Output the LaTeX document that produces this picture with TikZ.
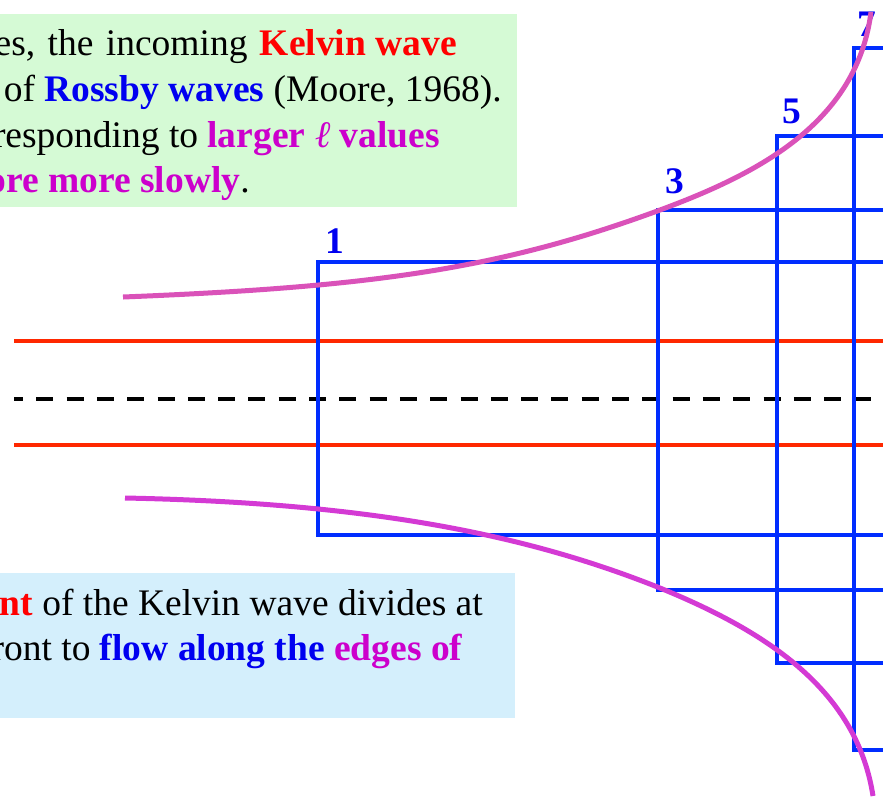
\documentclass[tikz,border=0pt]{standalone}
\usepackage{fontspec}
\setmainfont{Liberation Serif}
\usetikzlibrary{positioning}
\definecolor{kelvinred}{RGB}{255,0,0}
\definecolor{eqred}{RGB}{255,40,0}
\definecolor{rossbyblue}{RGB}{0,0,240}
\definecolor{gridblue}{RGB}{0,45,255}
\definecolor{edgemag}{RGB}{204,0,204}
\definecolor{uppink}{RGB}{218,82,185}
\definecolor{lowmag}{RGB}{212,58,212}
\definecolor{notegreen}{RGB}{213,250,213}
\definecolor{notecyan}{RGB}{212,239,252}

\begin{document}
\begin{tikzpicture}[x=1pt,y=-1pt,
    txt/.style={anchor=base east, inner sep=0pt, font=\fontsize{37.5}{46}\selectfont},
    num/.style={anchor=base, inner sep=0pt, text=rossbyblue,
                font=\fontsize{37.5}{46}\selectfont\bfseries},
    wall/.style={gridblue, line width=4pt, line join=miter},
    eq/.style={eqred, line width=4pt},
    front/.style={line width=5pt}]
  \useasboundingbox (0,0) rectangle (883,796);
  \clip (0,0) rectangle (883,796);

  % note boxes (cut at the left edge)
  \fill[notegreen] (-5,14) rectangle (517,207);
  \fill[notecyan] (-5,573) rectangle (515,718);
  \node[txt] (g1) at (457,55) {{\spaceskip=12.4pt es, the incoming }\textcolor{kelvinred}{\textbf{Kelvin wave}}};
  \node[txt] (g2) at (502,101) {of \textcolor{rossbyblue}{\textbf{Rossby waves}} (Moore, 1968).};
  \node[txt] (g3) at (440,147) {responding to \textcolor{edgemag}{\textbf{larger {\mdseries\itshape ℓ} values}}};
  \node[txt] (g4) at (250,192) {\textcolor{edgemag}{\textbf{ore more slowly}}.};
  \node[txt] (b1) at (483,615) {\textcolor{kelvinred}{\textbf{nt}} of the Kelvin wave divides at};
  \node[txt] (b2) at (463,660) {ront to \textcolor{rossbyblue}{\textbf{flow along the}} \textcolor{edgemag}{\textbf{edges of}}};

  % waveguide edges and equator
  \draw[eq] (14,341) -- (890,341);
  \draw[eq] (14,445) -- (890,445);
  \draw[line width=4pt, dash pattern=on 17pt off 13.3pt, dash phase=8pt]
    (14,399) -- (873,399);

  % Rossby wave fronts 1, 3, 5, 7
  \foreach \lx/\ty/\by in {318/262/535, 658/210/590, 777/136/663, 854/48/750}
    \draw[wall] (890,\ty) -- (\lx,\ty) -- (\lx,\by) -- (890,\by);
  \node[num] (n1) at (335,253) {1};
  \node[num] (n3) at (675,193) {3};
  \node[num] (n5) at (792,123) {5};
  \node[num] (n7) at (867,36) {7};

  % edges of the spreading front
  \draw[front, uppink] (123,297) .. controls (373,287) and (500,269) .. (660,210)
    .. controls (760,173) and (857,122) .. (871,12);
  \draw[front, lowmag] (125,498) .. controls (375,503) and (530,536) .. (660,588)
    .. controls (760,629) and (856,686) .. (873,796);
\end{tikzpicture}
\end{document}
